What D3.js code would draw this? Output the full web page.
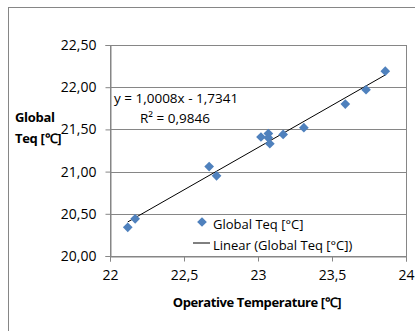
<!DOCTYPE html>
<html>
<head>
<meta charset="utf-8">
<script src="https://cdn.jsdelivr.net/npm/d3@7"></script>
<style>
  body { margin: 0; background: #fff; }
  text { font-family: "Open Sans", sans-serif; }
</style>
</head>
<body>
<div id="chart"></div>
<script>
// data
const opTemp = [22.12, 22.17, 22.67, 22.72, 23.02, 23.07, 23.07, 23.08, 23.17, 23.31, 23.59, 23.73, 23.86];
const globalTeq = [20.34, 20.44, 21.06, 20.95, 21.41, 21.45, 21.40, 21.33, 21.44, 21.52, 21.80, 21.97, 22.19];
const xTicks = [22, 22.5, 23, 23.5, 24];
const yTicks = [20, 20.5, 21, 21.5, 22, 22.5];
const slope = 1.0008, intercept = -1.7341;

const width = 415, height = 331;
const margin = {left: 110, right: 9, top: 45, bottom: 75};
const w = width - margin.left - margin.right;
const h = height - margin.top - margin.bottom;

const svg = d3.select("#chart").append("svg")
  .attr("width", width).attr("height", height);

// outer chart frame
svg.append("rect")
  .attr("x", 8.5).attr("y", 7.5)
  .attr("width", 420).attr("height", 340)
  .attr("fill", "none").attr("stroke", "#868686");

const g = svg.append("g")
  .attr("transform", "translate(" + margin.left + "," + margin.top + ")");

const x = d3.scaleLinear().domain([22, 24]).range([0, w]);
const y = d3.scaleLinear().domain([20, 22.5]).range([h, 0]);

// gridlines
g.selectAll(".grid").data(yTicks).enter().append("line")
  .attr("x1", 0).attr("x2", w)
  .attr("y1", d => Math.round(y(d)) + 0.5).attr("y2", d => Math.round(y(d)) + 0.5)
  .attr("stroke", "#868686");

g.append("rect")
  .attr("x", 0.5).attr("y", 0.5).attr("width", w).attr("height", h)
  .attr("fill", "none").attr("stroke", "#868686");

// axes
const fmtY = d => d3.format(".2f")(d).replace(".", ",");
const fmtX = d => String(d).replace(".", ",");

const yAxis = g.append("g")
  .attr("transform", "translate(0.5,0)")
  .call(d3.axisLeft(y).tickValues(yTicks).tickFormat(fmtY).tickSize(5).tickPadding(9));
yAxis.select(".domain").attr("stroke", "#868686");
yAxis.selectAll("line").attr("stroke", "#868686");
yAxis.selectAll("text").attr("font-size", 14).attr("fill", "#000")
  .style("font-family", "'Open Sans', sans-serif");

const xAxis = g.append("g")
  .attr("transform", "translate(0," + (h + 0.5) + ")")
  .call(d3.axisBottom(x).tickValues(xTicks).tickFormat(fmtX).tickSize(5).tickPadding(9));
xAxis.select(".domain").attr("stroke", "#868686");
xAxis.selectAll("line").attr("stroke", "#868686");
xAxis.selectAll("text").attr("font-size", 14).attr("fill", "#000")
  .style("font-family", "'Open Sans', sans-serif");

// trend line
const xr = d3.extent(opTemp);
g.append("line")
  .attr("x1", x(xr[0])).attr("y1", y(slope * xr[0] + intercept))
  .attr("x2", x(xr[1])).attr("y2", y(slope * xr[1] + intercept))
  .attr("stroke", "#000").attr("stroke-width", 1);

// points
const diamond = d3.symbol().type(d3.symbolDiamond2).size(60);
g.selectAll(".pt").data(opTemp).enter().append("path")
  .attr("d", diamond)
  .attr("transform", (d, i) => "translate(" + x(d) + "," + y(globalTeq[i]) + ")")
  .attr("fill", "#4F81BD");

// equation
g.append("text").attr("x", 4).attr("y", 58)
  .attr("font-size", 13.5).text("y = 1,0008x - 1,7341");
g.append("text").attr("x", 30).attr("y", 78)
  .attr("font-size", 13.5).text("R² = 0,9846");

// legend
const leg = g.append("g");
leg.append("path").attr("d", diamond)
  .attr("transform", "translate(92,177)").attr("fill", "#4F81BD");
leg.append("text").attr("x", 103).attr("y", 184).attr("font-size", 13).text("Global Teq [°C]");
leg.append("line").attr("x1", 83).attr("x2", 100).attr("y1", 198).attr("y2", 198)
  .attr("stroke", "#000");
leg.append("text").attr("x", 103).attr("y", 205).attr("font-size", 13).text("Linear (Global Teq [°C])");

// axis titles
svg.append("text").attr("x", margin.left + w / 2 - 1).attr("y", 307)
  .attr("text-anchor", "middle").attr("font-size", 13).attr("font-weight", "bold")
  .attr("letter-spacing", -0.4)
  .text("Operative Temperature [℃]");
svg.append("text").attr("x", 15).attr("y", 122)
  .attr("font-size", 13).attr("font-weight", "bold").attr("letter-spacing", -0.3).text("Global");
svg.append("text").attr("x", 15).attr("y", 143)
  .attr("font-size", 13).attr("font-weight", "bold").attr("letter-spacing", -0.3).text("Teq [℃]");
</script>
</body>
</html>
